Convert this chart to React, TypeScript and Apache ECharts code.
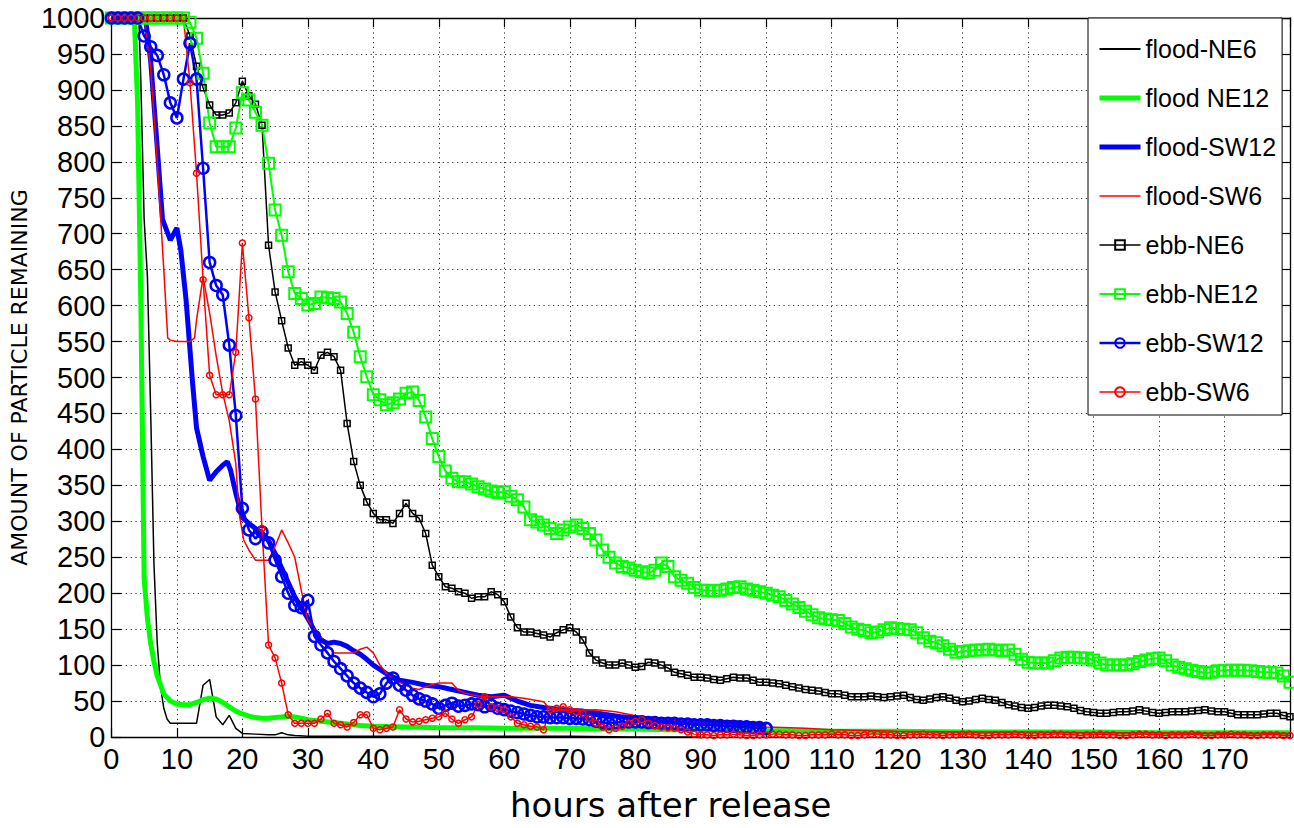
import React, { useEffect, useRef } from "react";
import * as echarts from "echarts";

// ---------- data (hours after release, particles remaining) ----------
const floodNE6Hours = [0, 4.2, 4.5, 5, 5.5, 6, 6.5, 7, 7.5, 8, 8.5, 9, 13, 14, 15, 16, 17, 18, 19, 20, 22, 24, 25, 26, 27, 28, 30, 35, 40, 50, 60, 70, 80, 90];
const floodNE6Values = [1000, 1000, 910, 720, 640, 450, 240, 130, 70, 40, 25, 19, 19, 72, 80, 28, 17, 30, 12, 5, 4, 3, 3, 6, 3, 2, 1, 1, 1, 1, 1, 1, 0, 0];

const floodNE12Hours = [0, 3.5, 4, 4.5, 5, 5.5, 6, 6.5, 7, 8, 9, 10, 11, 12, 13, 14, 15, 16, 17, 18, 19, 20, 21, 22, 23, 24, 25, 26, 27, 28, 29, 30, 32, 35, 38, 40, 45, 50, 55, 60, 65, 70, 75, 80, 85, 90, 95, 100, 110, 120, 130, 140, 150, 160, 170, 180];
const floodNE12Values = [1000, 1000, 880, 600, 220, 165, 130, 105, 85, 60, 50, 46, 45, 45, 48, 52, 54, 53, 48, 42, 36, 32, 29, 27, 26, 26, 27, 28, 29, 28, 26, 24, 22, 19, 16, 15, 14, 13, 13, 12, 12, 12, 11, 11, 10, 10, 10, 9, 8, 8, 7, 7, 7, 6, 6, 6];

const floodSW12Hours = [0, 5.2, 6, 7, 7.8, 9, 10, 10.6, 11.4, 12.4, 13, 14, 15, 16, 17, 17.7, 18.2, 19, 20, 21, 22, 23, 24, 25, 26, 27, 28, 29, 30, 31, 32, 33, 34, 35, 36, 37, 38, 39, 40, 42, 44, 46, 48, 50, 52, 54, 56, 58, 60, 62, 64, 66, 68, 70, 72, 75, 78, 81, 84, 87, 90, 93, 96, 100];
const floodSW12Values = [1000, 1000, 940, 820, 720, 691, 708, 677, 608, 492, 430, 390, 357, 369, 378, 383, 371, 339, 305, 297, 290, 284, 273, 255, 235, 215, 195, 180, 165, 148, 135, 130, 132, 130, 126, 120, 115, 108, 100, 88, 79, 76, 72, 70, 66, 62, 58, 56, 58, 50, 44, 41, 39, 37, 36, 32, 28, 26, 24, 23, 21, 20, 19, 17];

const floodSW6Hours = [0, 5, 6, 7, 8, 8.6, 9, 10, 11, 12, 12.7, 13, 14, 15, 16, 17, 18, 19, 19.5, 20.2, 21, 22, 23, 24, 25, 26, 27, 28, 29, 30, 31, 32, 33, 34, 35, 36, 37, 38, 39, 40, 41, 42, 43, 44, 45, 46, 47, 48, 49, 50, 51, 52, 53, 54, 56, 58, 60, 61, 63, 66, 67, 70, 74, 77, 81, 85, 90, 95, 100, 106, 110, 120, 130, 140, 150, 160, 170, 180];
const floodSW6Values = [1000, 1000, 930, 800, 650, 555, 552, 550, 550, 550, 555, 580, 640, 590, 530, 478, 440, 380, 311, 274, 260, 246, 246, 246, 265, 288, 270, 250, 204, 163, 150, 139, 128, 117, 117, 117, 117, 122, 125, 117, 100, 89, 80, 76, 72, 68, 66, 70, 73, 75, 75, 75, 65, 61, 57, 56, 56, 56, 54, 49, 38, 37, 38, 35, 28, 24, 20, 16, 14, 12, 10, 8, 7, 7, 6, 6, 5, 5];

// ebb series: one value per hour, starting at hour 0
const ebbNE6 = [
  1000, 1000, 1000, 1000, 1000, 1000, 1000, 1000, 1000, 1000, 1000, 1000,
  975, 933, 903, 879, 865, 865, 868, 882,
  912, 892, 880, 851, 684, 619, 579, 541, 517, 522,
  517, 510, 531, 535, 529, 510, 436, 383, 350, 327,
  311, 302, 302, 297, 311, 325, 311, 304, 283, 239,
  223, 209, 207, 202, 200, 193, 195, 195, 202, 198,
  188, 167, 152, 146, 146, 144, 142, 139, 145, 149,
  152, 146, 135, 117, 107, 103, 100, 100, 103, 100,
  97, 98, 104, 103, 100, 96, 90, 88, 86, 83,
  83, 82, 80, 79, 81, 83, 82, 82, 79, 76,
  76, 75, 74, 72, 70, 68, 66, 65, 64, 62,
  60, 60, 58, 56, 56, 56, 57, 56, 55, 56,
  57, 58, 55, 52, 51, 53, 55, 56, 54, 51,
  49, 50, 52, 54, 52, 51, 48, 45, 43, 41,
  40, 41, 43, 44, 44, 43, 42, 40, 37, 35,
  34, 33, 33, 34, 35, 35, 36, 38, 36, 34,
  33, 34, 35, 35, 35, 36, 37, 38, 36, 35,
  35, 33, 31, 31, 31, 31, 32, 33, 33, 30, 28,
];

const ebbNE12 = [
  1000, 1000, 1000, 1000, 1000, 1000, 1000, 1000, 1000, 1000, 1000, 1000,
  994, 972, 923, 854, 821, 821, 821, 847,
  896, 886, 869, 851, 798, 733, 698, 647, 617, 610,
  601, 603, 612, 611, 610, 605, 589, 563, 529, 501,
  476, 469, 462, 465, 470, 478, 480, 468, 445, 415,
  390, 370, 360, 355, 355, 352, 348, 345, 342, 340,
  341, 335, 330, 320, 302, 299, 295, 290, 283, 288,
  292, 295, 290, 283, 274, 260, 250, 242, 237, 235,
  232, 230, 228, 232, 242, 237, 223, 218, 214, 208,
  204, 204, 203, 204, 206, 208, 209, 206, 204, 202,
  200, 197, 195, 190, 185, 180, 175, 170, 166, 164,
  163, 162, 158, 153, 150, 148, 145, 146, 149, 152,
  151, 150, 149, 145, 138, 133, 131, 127, 122, 118,
  119, 120, 121, 121, 122, 121, 120, 121, 115, 108,
  104, 103, 103, 103, 106, 110, 111, 111, 110, 110,
  107, 103, 100, 100, 100, 100, 102, 105, 107, 109,
  110, 106, 100, 97, 95, 93, 91, 89, 90, 92,
  93, 93, 93, 93, 92, 91, 90, 90, 89, 85, 76,
];

const ebbSW12 = [
  1000, 1000, 1000, 1000, 1000,
  975, 960, 948, 921, 882,
  861, 915, 965, 915, 791, 660, 628, 615, 545, 447,
  318, 288, 276, 285, 270, 246, 223, 200, 183, 180,
  190, 140, 128, 117, 105, 95, 85, 75, 68, 62,
  56, 60, 75, 82, 72, 65, 58, 53, 50, 46,
  40, 44, 47, 43, 44, 46, 45, 42, 44, 40,
  38, 36, 34, 32, 30, 28, 28, 27, 27, 27,
  26, 26, 25, 24, 22, 20, 19, 20, 21, 21,
  21, 21, 20, 20, 19, 19, 19, 18, 18, 17,
  17, 17, 16, 16, 15, 15, 14, 14, 13, 13, 12,
];

const ebbSW6 = [
  1000, 1000, 1000, 1000, 1000, 1000, 1000, 1000, 1000, 1000, 1000, 1000,
  910, 784, 636, 503, 476, 476, 476, 535,
  687, 583, 470, 290, 128, 110, 75, 31, 19, 19,
  19, 19, 25, 33, 19, 17, 14, 20, 31, 31,
  12, 10, 12, 14, 38, 25, 21, 22, 24, 26,
  28, 33, 25, 19, 24, 28, 45, 56, 42, 40,
  38, 28, 19, 17, 15, 14, 10, 38, 40, 42,
  38, 35, 33, 26, 19, 14, 10, 12, 15, 19,
  22, 24, 19, 16, 14, 13, 12, 10, 7, 4,
  3, 3, 2, 3, 3, 4, 3, 2, 2, 3,
  3, 4, 4, 3, 3, 2, 2, 3, 3, 3,
  4, 3, 3, 2, 2, 3, 4, 4, 3, 3,
  2, 2, 3, 3, 4, 3, 3, 2, 3, 3,
  4, 4, 3, 2, 2, 3, 3, 3, 4, 3,
  2, 2, 3, 3, 4, 4, 3, 3, 2, 3,
  3, 4, 3, 3, 2, 2, 3, 4, 4, 3,
  3, 2, 3, 3, 3, 4, 3, 2, 2, 3,
  3, 4, 3, 3, 2, 2, 3, 3, 3, 2, 2,
];

const seriesNames = ["flood-NE6", "flood NE12", "flood-SW12", "flood-SW6", "ebb-NE6", "ebb-NE12", "ebb-SW12", "ebb-SW6"];

const BLACK = "#000000";
const GREEN = "#00ff00";
const BLUE = "#0000ff";
const RED = "#ff0000";

const TICK_FONT = "'Liberation Sans Narrow', 'Arial Narrow', 'Liberation Sans', Arial, sans-serif";

const pairs = (xs: number[], ys: number[]) => xs.map((x, i) => [x, ys[i]]);
const hourly = (ys: number[]) => ys.map((y, i) => [i, y]);

function floodSeries(name: string, xs: number[], ys: number[], color: string, width: number) {
  return {
    name,
    type: "line",
    data: pairs(xs, ys),
    symbol: "none",
    lineStyle: { color, width },
    itemStyle: { color },
    emphasis: { disabled: true },
  };
}

function ebbSeries(name: string, ys: number[], color: string, width: number, symbol: string, size: number, border: number) {
  return {
    name,
    type: "line",
    data: hourly(ys),
    symbol,
    symbolSize: size,
    showSymbol: true,
    showAllSymbol: true,
    lineStyle: { color, width },
    itemStyle: { color: "rgba(255,255,255,0)", borderColor: color, borderWidth: border },
    emphasis: { disabled: true },
  };
}

export default function App() {
  const ref = useRef<HTMLDivElement>(null);

  useEffect(() => {
    const chart = echarts.init(ref.current as HTMLDivElement, null, { renderer: "svg" });
    const dotted = { type: [1.2, 3.6], color: "#333", width: 1 };
    const legendItems = [
      { name: seriesNames[0], itemStyle: { opacity: 0 }, lineStyle: { width: 2 } },
      { name: seriesNames[1], itemStyle: { opacity: 0 }, lineStyle: { width: 5 } },
      { name: seriesNames[2], itemStyle: { opacity: 0 }, lineStyle: { width: 5 } },
      { name: seriesNames[3], itemStyle: { opacity: 0 }, lineStyle: { width: 1.5 } },
      { name: seriesNames[4], lineStyle: { width: 1.5 } },
      { name: seriesNames[5], lineStyle: { width: 2 } },
      { name: seriesNames[6], lineStyle: { width: 2.5 } },
      { name: seriesNames[7], lineStyle: { width: 1.5 } },
    ];
    const option: any = {
      animation: false,
      backgroundColor: "#ffffff",
      grid: { left: 98, right: 4, top: 18, bottom: 91, containLabel: false },
      legend: {
        data: legendItems,
        orient: "vertical",
        left: 1088,
        top: 18,
        align: "left",
        backgroundColor: "#ffffff",
        borderColor: BLACK,
        borderWidth: 1,
        borderRadius: 0,
        padding: [16, 6, 8, 9],
        itemWidth: 41,
        itemHeight: 12,
        itemGap: 19,
        textStyle: { fontSize: 25, color: BLACK, fontFamily: "'Liberation Sans', Arial, sans-serif", lineHeight: 30 },
      },
      xAxis: [
        {
          type: "value",
          min: 0,
          max: 180,
          interval: 10,
          position: "bottom",
          axisLine: { show: true, onZero: false, lineStyle: { color: BLACK, width: 1.3 } },
          axisTick: { show: true, inside: true, length: 9, lineStyle: { color: BLACK, width: 1.2 } },
          axisLabel: {
            color: BLACK,
            fontSize: 29,
            fontFamily: TICK_FONT,
            margin: 7,
            formatter: (v: number) => (v === 180 ? "" : String(v)),
          },
          splitLine: { show: true, lineStyle: dotted },
          name: "hours after release",
          nameLocation: "middle",
          nameGap: 51,
          nameTextStyle: { fontSize: 34, color: BLACK, fontFamily: "'DejaVu Sans', sans-serif", padding: [0, 60, 0, 0] },
        },
        {
          type: "value",
          min: 0,
          max: 180,
          interval: 10,
          position: "top",
          axisLine: { show: true, onZero: false, lineStyle: { color: BLACK, width: 1.3 } },
          axisTick: { show: true, inside: true, length: 9, lineStyle: { color: BLACK, width: 1.2 } },
          axisLabel: { show: false },
          splitLine: { show: false },
        },
      ],
      yAxis: [
        {
          type: "value",
          min: 0,
          max: 1000,
          interval: 50,
          position: "left",
          axisLine: { show: true, onZero: false, lineStyle: { color: BLACK, width: 1.3 } },
          axisTick: { show: true, inside: true, length: 10, lineStyle: { color: BLACK, width: 1.2 } },
          axisLabel: { color: BLACK, fontSize: 29, fontFamily: TICK_FONT, margin: 6, formatter: (v: number) => String(v) },
          splitLine: { show: true, lineStyle: dotted },
          name: "AMOUNT OF PARTICLE REMAINING",
          nameLocation: "middle",
          nameGap: 71,
          nameTextStyle: { fontSize: 22, color: BLACK, fontFamily: "'DejaVu Sans', sans-serif" },
        },
        {
          type: "value",
          min: 0,
          max: 1000,
          interval: 50,
          position: "right",
          axisLine: { show: true, onZero: false, lineStyle: { color: BLACK, width: 1.3 } },
          axisTick: { show: true, inside: true, length: 10, lineStyle: { color: BLACK, width: 1.2 } },
          axisLabel: { show: false },
          splitLine: { show: false },
        },
      ],
      series: [
        floodSeries(seriesNames[0], floodNE6Hours, floodNE6Values, BLACK, 1.5),
        floodSeries(seriesNames[1], floodNE12Hours, floodNE12Values, GREEN, 5),
        floodSeries(seriesNames[2], floodSW12Hours, floodSW12Values, BLUE, 5),
        floodSeries(seriesNames[3], floodSW6Hours, floodSW6Values, RED, 1.5),
        ebbSeries(seriesNames[4], ebbNE6, BLACK, 1.5, "rect", 6, 1.5),
        ebbSeries(seriesNames[5], ebbNE12, GREEN, 2, "rect", 11, 2),
        ebbSeries(seriesNames[6], ebbSW12, BLUE, 2.5, "circle", 11, 2.5),
        ebbSeries(seriesNames[7], ebbSW6, RED, 1.5, "circle", 6, 1.5),
      ],
    };
    chart.setOption(option);
    return () => chart.dispose();
  }, []);

  return (
    <div
      ref={ref}
      style={{ position: "absolute", left: 0, top: 0, width: 1294, height: 828, background: "#ffffff" }}
    />
  );
}
